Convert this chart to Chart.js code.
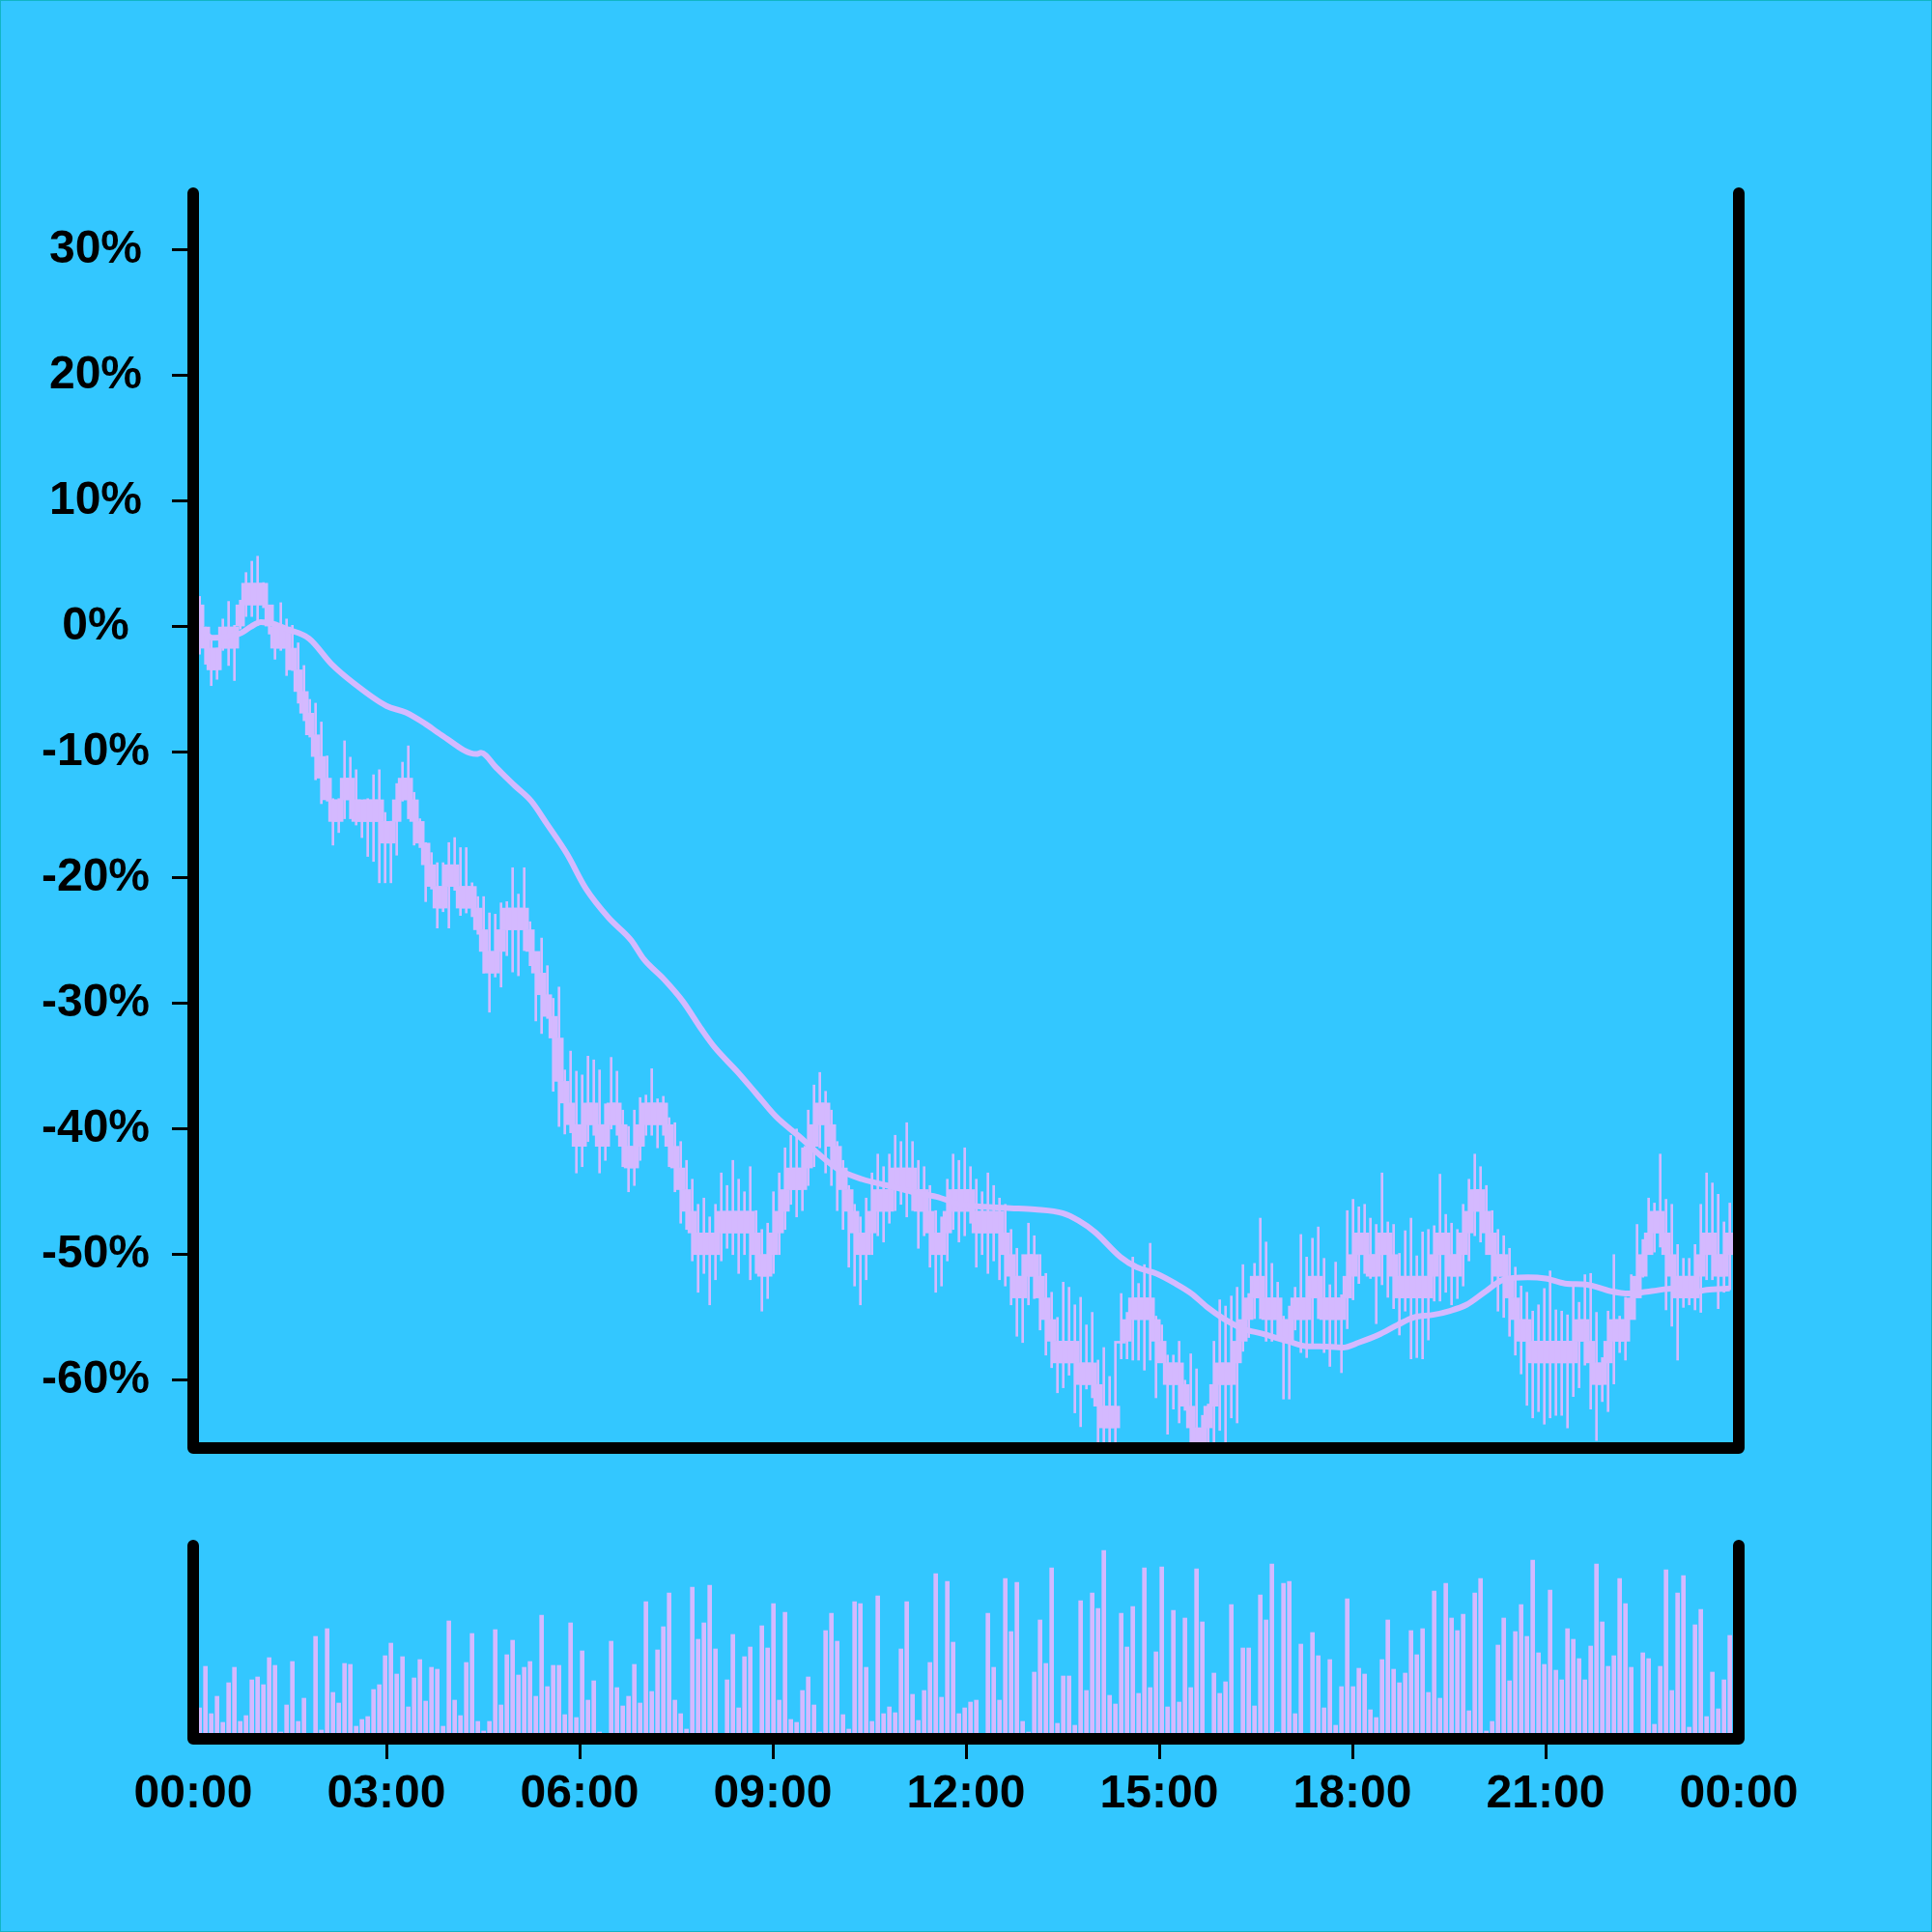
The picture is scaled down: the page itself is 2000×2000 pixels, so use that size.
<!DOCTYPE html>
<html>
<head>
<meta charset="utf-8">
<script src="https://cdn.jsdelivr.net/npm/chart.js@4.4.1/dist/chart.umd.min.js"></script>
<style>
  html, body { margin: 0; padding: 0; background: #33c7ff; }
  #wrap { position: relative; width: 2000px; height: 2000px; background: #33c7ff; }
  canvas { position: absolute; left: 0; }
  #price { top: 0; width: 2000px; height: 1560px; }
  #volume { top: 1560px; width: 2000px; height: 440px; }
  #edge { position: absolute; left: 0; top: 0; width: 2000px; height: 2000px; box-sizing: border-box; border: 1px solid #12b4c4; pointer-events: none; }
</style>
</head>
<body>
<div id="wrap">
  <canvas id="price" width="2000" height="1560"></canvas>
  <canvas id="volume" width="2000" height="440"></canvas>
  <div id="edge"></div>
</div>
<script>
// prices move in whole units of a 58-unit reference, shown as % change
const basePrice = 58;

const openPrice = [
  59,58,57,56,57,58,57,58,59,60,59,60,59,58,57,58,57,56,55,54,
  53,52,51,50,49,50,51,50,49,50,49,50,49,48,49,50,51,50,49,48,
  47,46,45,46,47,46,45,46,45,44,43,42,43,44,45,44,45,44,43,42,
  41,40,39,37,36,35,34,35,36,35,34,35,36,35,34,33,34,35,36,35,
  36,35,34,33,32,31,30,29,30,29,30,31,30,31,30,31,30,29,28,29,
  30,31,32,33,32,33,34,35,36,35,34,33,32,31,30,29,30,31,32,31,
  32,33,32,33,32,31,31,30,29,30,31,32,31,32,31,30,31,30,31,30,
  29,28,27,28,29,28,27,26,25,25,24,25,24,23,24,23,22,21,22,25,
  25,26,27,26,27,26,25,24,23,24,23,22,21,20,21,22,23,24,23,24,
  25,26,27,28,27,26,27,26,25,26,27,26,27,28,27,26,27,26,27,28,
  29,30,29,28,29,30,29,28,27,28,27,28,27,28,29,30,29,28,29,30,
  31,32,31,30,29,28,28,27,26,25,25,24,25,24,25,24,25,24,25,26,
  25,24,23,24,25,26,25,26,27,28,29,30,31,30,29,28,27,28,27,28,
  29,30,29,28,29
];
const closePrice = [
  58,57,56,57,58,57,58,59,60,59,60,59,58,57,58,57,56,55,54,53,
  52,51,50,49,50,51,50,49,50,49,50,49,48,49,50,51,50,49,48,47,
  46,45,46,47,46,45,46,45,44,43,42,43,44,45,44,45,44,43,42,41,
  40,39,37,36,35,34,35,36,35,34,35,36,35,34,33,34,35,36,35,36,
  35,34,33,32,31,30,29,30,29,30,31,30,31,30,31,30,29,28,29,30,
  31,32,33,32,33,34,35,36,35,34,33,32,31,30,29,30,31,32,31,32,
  33,32,33,32,31,32,30,29,30,31,32,31,32,31,30,31,30,31,30,29,
  28,27,28,29,28,27,26,25,24,24,25,24,23,24,23,22,21,22,21,25,
  26,27,26,27,26,25,24,23,24,23,22,21,20,21,22,23,24,23,24,25,
  26,27,28,27,26,27,26,25,26,27,26,27,28,27,26,27,26,27,28,29,
  30,29,28,29,30,29,28,27,28,27,28,27,28,29,30,29,28,29,30,31,
  32,31,30,29,28,29,27,26,25,26,24,25,24,25,24,25,24,25,26,25,
  24,23,24,25,26,25,26,27,28,29,30,31,30,29,28,27,28,27,28,29,
  30,29,28,29,30
];
// wick ends, % change
const highPct = [
  2.4, 0.0, -1.0, -1.7, 0.6, 2.0, 0.1, 2.1, 4.3, 5.2,
  5.6, 3.5, 1.7, 0.3, 1.9, 0.6, 0.1, -1.3, -3.1, -5.8,
  -6.1, -7.6, -10.3, -13.7, -13.7, -9.1, -10.4, -11.4, -13.9, -13.7,
  -11.8, -11.4, -14.8, -15.5, -12.5, -10.8, -9.5, -13.2, -15.3, -17.2,
  -18.0, -18.8, -18.8, -17.2, -16.8, -17.6, -17.6, -20.4, -21.5, -21.5,
  -22.8, -22.9, -22.0, -21.9, -19.2, -21.3, -19.2, -23.5, -26.0, -24.8,
  -27.0, -29.6, -28.7, -35.3, -33.8, -35.4, -35.7, -34.2, -34.5, -35.3,
  -38.0, -34.3, -35.4, -38.5, -39.8, -38.5, -37.5, -37.3, -35.2, -37.6,
  -37.4, -39.1, -39.5, -41.0, -42.5, -44.0, -46.0, -45.5, -47.0, -46.0,
  -43.5, -44.5, -42.5, -44.0, -45.0, -43.0, -46.5, -48.0, -47.5, -45.0,
  -43.5, -41.5, -40.5, -40.0, -41.5, -38.5, -36.5, -35.5, -37.0, -38.5,
  -41.0, -42.5, -44.5, -46.0, -47.0, -45.5, -43.5, -42.0, -43.0, -42.0,
  -40.5, -41.0, -39.5, -41.0, -42.5, -43.0, -44.5, -46.5, -47.0, -44.0,
  -42.0, -42.5, -41.5, -43.0, -44.0, -45.0, -43.5, -44.5, -45.5, -46.0,
  -48.0, -49.5, -50.0, -47.5, -48.5, -50.0, -51.5, -53.0, -55.0, -52.2,
  -52.6, -54.0, -53.4, -55.6, -54.6, -58.4, -57.4, -59.7, -56.9, -53.1,
  -54.6, -50.2, -52.3, -50.8, -49.1, -54.9, -55.6, -58.0, -58.0, -56.9,
  -60.0, -57.9, -59.1, -62.8, -61.9, -56.9, -53.6, -54.1, -53.3, -52.6,
  -50.8, -53.1, -50.7, -47.1, -49.0, -50.7, -52.2, -54.9, -54.1, -52.6,
  -48.4, -50.2, -48.7, -47.8, -50.3, -52.4, -50.6, -53.2, -46.5, -45.6,
  -46.2, -46.0, -47.1, -47.6, -43.5, -47.4, -47.6, -49.9, -48.1, -47.1,
  -50.1, -48.2, -48.0, -47.7, -43.6, -46.8, -47.5, -48.0, -46.0, -44.0,
  -42.0, -43.0, -44.5, -46.5, -48.0, -48.5, -49.5, -51.0, -52.5, -53.0,
  -54.5, -54.0, -52.7, -51.3, -54.4, -54.5, -54.8, -52.2, -53.8, -51.6,
  -51.5, -54.6, -58.2, -54.5, -50.0, -54.9, -53.4, -51.6, -47.6, -48.8,
  -45.5, -45.9, -42.0, -45.6, -46.0, -49.2, -50.3, -50.3, -49.2, -46.0,
  -43.5, -44.3, -45.2, -47.4, -45.9
];
const lowPct = [
  -2.2, -3.0, -4.7, -4.2, -1.9, -3.1, -4.3, -0.2, 0.8, 0.8,
  0.1, 1.5, -0.6, -2.6, -1.9, -3.9, -3.5, -6.1, -7.5, -8.8,
  -12.2, -14.1, -13.9, -17.4, -16.4, -15.3, -15.3, -15.8, -16.8, -18.3,
  -18.7, -20.4, -20.4, -20.4, -18.2, -13.9, -15.3, -17.4, -17.6, -21.9,
  -20.9, -24.0, -22.7, -24.0, -21.0, -23.0, -22.8, -23.1, -24.5, -27.6,
  -30.7, -27.9, -28.7, -26.2, -27.5, -27.8, -25.8, -27.0, -31.4, -32.4,
  -31.2, -37.0, -39.8, -40.4, -40.3, -43.5, -43.0, -41.0, -40.5, -43.5,
  -42.5, -40.0, -40.5, -43.0, -45.0, -44.5, -42.5, -40.5, -40.5, -41.5,
  -40.5, -43.0, -45.0, -47.5, -48.0, -50.5, -53.0, -51.5, -54.0, -52.0,
  -50.5, -49.5, -50.0, -51.5, -50.0, -52.0, -51.5, -54.5, -53.5, -51.5,
  -50.0, -48.0, -46.0, -47.0, -46.5, -44.5, -43.0, -41.5, -43.5, -44.5,
  -46.5, -48.0, -51.0, -52.5, -54.0, -52.0, -50.0, -48.5, -49.0, -47.5,
  -46.5, -46.0, -47.0, -46.5, -49.5, -48.5, -51.0, -53.0, -52.5, -50.5,
  -48.0, -49.0, -48.5, -47.5, -51.0, -50.0, -51.5, -50.5, -52.0, -52.5,
  -54.0, -56.5, -57.0, -54.0, -53.5, -56.0, -58.0, -59.0, -61.0, -60.6,
  -59.6, -62.6, -63.7, -60.7, -61.4, -66.0, -66.0, -66.0, -66.0, -58.3,
  -58.3, -58.4, -58.4, -59.2, -58.4, -61.4, -58.6, -64.3, -62.3, -63.4,
  -62.4, -66.0, -66.0, -66.0, -66.0, -66.0, -64.0, -66.0, -63.0, -63.4,
  -57.7, -56.6, -55.1, -55.1, -56.9, -56.9, -56.6, -61.5, -61.5, -56.0,
  -57.8, -58.2, -57.1, -55.1, -57.8, -58.9, -57.4, -59.4, -55.9, -53.6,
  -52.3, -51.5, -51.9, -55.5, -52.4, -53.4, -54.3, -56.4, -54.5, -58.3,
  -58.2, -58.3, -56.8, -53.7, -53.7, -53.0, -54.0, -53.5, -52.5, -50.5,
  -48.5, -49.0, -50.0, -52.5, -54.5, -55.0, -56.5, -58.0, -59.5, -62.0,
  -63.0, -62.5, -63.5, -63.0, -62.8, -62.8, -63.8, -61.3, -60.6, -58.8,
  -62.3, -64.8, -61.7, -62.5, -60.3, -57.8, -58.4, -54.8, -53.4, -51.8,
  -49.7, -49.8, -49.4, -54.4, -55.7, -58.4, -54.2, -54.0, -54.4, -54.6,
  -52.0, -52.0, -54.3, -53.0, -52.8
];
const volume = [
  32,75,26,44,17,58,74,18,24,61,64,56,84,76,7,35,80,18,42,3,
  106,9,114,48,37,78,77,13,20,23,51,56,86,99,67,85,33,63,82,39,
  74,72,13,122,40,24,79,109,18,8,18,113,35,87,102,66,74,80,44,128,
  54,76,76,25,120,22,91,40,60,7,3,101,53,34,44,77,37,142,49,92,
  116,151,40,26,10,157,103,120,159,93,3,61,108,32,85,95,3,117,94,140,
  40,131,20,17,50,64,35,7,112,130,101,25,10,142,140,74,18,148,26,33,
  27,93,142,46,19,50,79,171,43,163,100,26,32,38,40,3,130,74,40,166,
  111,162,18,7,69,123,78,177,16,65,65,14,143,50,151,135,195,45,36,130,
  95,137,47,177,53,90,178,33,133,38,125,53,176,121,3,68,47,59,139,3,
  94,94,34,149,123,181,7,161,163,26,98,3,110,86,32,82,14,54,145,54,
  73,67,30,22,82,123,72,58,68,112,87,114,48,153,42,161,125,112,129,29,
  151,166,8,18,97,125,60,111,139,106,185,89,77,154,71,61,114,103,83,61,
  96,181,121,75,86,166,140,74,3,89,83,15,75,175,50,151,169,12,118,134,
  23,69,31,61,107
];
// moving average
const maHours = [0.1, 0.3, 0.55, 0.75, 0.9, 1.05, 1.25, 1.45, 1.8, 2.15, 2.5, 3.0, 3.3, 3.6, 3.85, 4.4, 4.47, 4.7, 5.0, 5.25,
  5.5, 5.8, 6.1, 6.45, 6.8, 7.0, 7.3, 7.6, 7.9, 8.1, 8.45, 8.75, 9.05, 9.4, 10.01, 10.39, 10.78, 11.16, 11.54, 11.92,
  12.31, 12.69, 13.07, 13.5, 13.75, 14.0, 14.4, 14.65, 14.95, 15.25, 15.5, 15.75, 16.0, 16.3, 16.6, 17.0, 17.3, 17.5, 17.85, 18.1,
  18.4, 18.7, 18.95, 19.25, 19.5, 19.77, 20.05, 20.34, 20.72, 21.0, 21.3, 21.65, 22.0, 22.3, 22.65, 23.0, 23.2, 23.5, 23.86];
const maPct = [0.0, -0.9, -0.8, -0.5, 0.0, 0.35, 0.2, -0.2, -0.96, -3.0, -4.54, -6.32, -6.84, -7.73, -8.62, -10.15, -10.05, -11.2, -12.7, -13.9,
  -15.77, -18.07, -20.88, -23.18, -24.97, -26.5, -28.03, -29.82, -32.12, -33.52, -35.44, -37.23, -39.02, -40.55, -43.2, -44.0, -44.5, -45.0, -45.4, -46.0,
  -46.2, -46.3, -46.4, -46.7, -47.3, -48.2, -50.2, -51.0, -51.5, -52.3, -53.1, -54.2, -55.1, -55.9, -56.3, -56.9, -57.3, -57.3, -57.4, -57.0,
  -56.4, -55.6, -55.0, -54.8, -54.5, -54.0, -53.0, -52.0, -51.8, -51.9, -52.3, -52.4, -52.9, -53.1, -52.9, -52.7, -53.1, -52.8, -52.7];

const yTicks = [30, 20, 10, 0, -10, -20, -30, -40, -50, -60];
const xTickHours = [0, 3, 6, 9, 12, 15, 18, 21, 24];
const xTickLabels = ["00:00", "03:00", "06:00", "09:00", "12:00", "15:00", "18:00", "21:00", "00:00"];

// candles come every 0.09 h, first one just after midnight
const firstCandleHour = 0.1;
const candleStep = 0.09;

const lavender = "#d4b9ff";
const labelFont = {family: "'Liberation Sans', Arial, sans-serif", size: 48, weight: "bold"};

const toPct = p => (p / basePrice - 1) * 100;
const hourOf = i => firstCandleHour + candleStep * i;

const bodies = openPrice.map((o, i) => ({x: hourOf(i), y: [toPct(o), toPct(closePrice[i])]}));
const wicks = highPct.map((h, i) => ({x: hourOf(i), y: [lowPct[i], h]}));
const volBars = volume.map((v, i) => ({x: hourOf(i), y: v}));
const maLine = maHours.map((h, i) => ({x: h, y: maPct[i]}));

// open box: left, bottom and right sides, rounded ends
const framePlugin = {
  id: "frame",
  afterDatasetsDraw(chart) {
    const {ctx, chartArea: a} = chart;
    ctx.save();
    ctx.lineWidth = 12;
    ctx.strokeStyle = "#000";
    ctx.lineCap = "round";
    ctx.lineJoin = "round";
    ctx.beginPath();
    ctx.moveTo(a.left, a.top);
    ctx.lineTo(a.left, a.bottom);
    ctx.lineTo(a.right, a.bottom);
    ctx.lineTo(a.right, a.top);
    ctx.stroke();
    ctx.restore();
  }
};

const noChrome = {legend: {display: false}, tooltip: {enabled: false}};

new Chart(document.getElementById("price"), {
  type: "bar",
  data: {
    datasets: [
      {type: "line", data: maLine, borderColor: lavender, borderWidth: 6, pointRadius: 0, cubicInterpolationMode: "monotone", order: 0},
      {data: wicks, backgroundColor: lavender, barThickness: 2, grouped: false, order: 1},
      {data: bodies, backgroundColor: lavender, barThickness: 9, grouped: false, minBarLength: 2, order: 2}
    ]
  },
  options: {
    responsive: false,
    animation: false,
    layout: {padding: {top: 200, right: 200, bottom: 61, left: 0}},
    plugins: noChrome,
    scales: {
      x: {type: "linear", min: 0, max: 24, offset: false, display: false},
      y: {
        min: -65.4,
        max: 34.5,
        afterFit: s => { s.width = 200; },
        afterBuildTicks: s => { s.ticks = yTicks.map(v => ({value: v})); },
        grid: {drawOnChartArea: false, tickLength: 22, tickWidth: 3, tickColor: "#000"},
        border: {display: false},
        ticks: {color: "#000", font: labelFont, padding: 23, crossAlign: "center", autoSkip: false, callback: v => v + "%"}
      }
    }
  },
  plugins: [framePlugin]
});

new Chart(document.getElementById("volume"), {
  type: "bar",
  data: {
    datasets: [{data: volBars, backgroundColor: lavender, barThickness: 4}]
  },
  options: {
    responsive: false,
    animation: false,
    layout: {padding: {top: 40, right: 200, bottom: 0, left: 200}},
    plugins: noChrome,
    scales: {
      x: {
        type: "linear", min: 0, max: 24, offset: false,
        afterFit: s => { s.height = 200; },
        afterBuildTicks: s => { s.ticks = xTickHours.map(v => ({value: v})); },
        grid: {
          offset: false, drawOnChartArea: false, tickLength: 21, tickWidth: 3,
          tickColor: ctx => (ctx.index === 0 || ctx.index === xTickHours.length - 1) ? "rgba(0,0,0,0)" : "#000"
        },
        border: {display: false},
        ticks: {color: "#000", font: labelFont, padding: 8, maxRotation: 0, autoSkip: false, callback: (v, i) => xTickLabels[i]}
      },
      y: {min: 0, max: 200, display: false}
    }
  },
  plugins: [framePlugin]
});
</script>
</body>
</html>
